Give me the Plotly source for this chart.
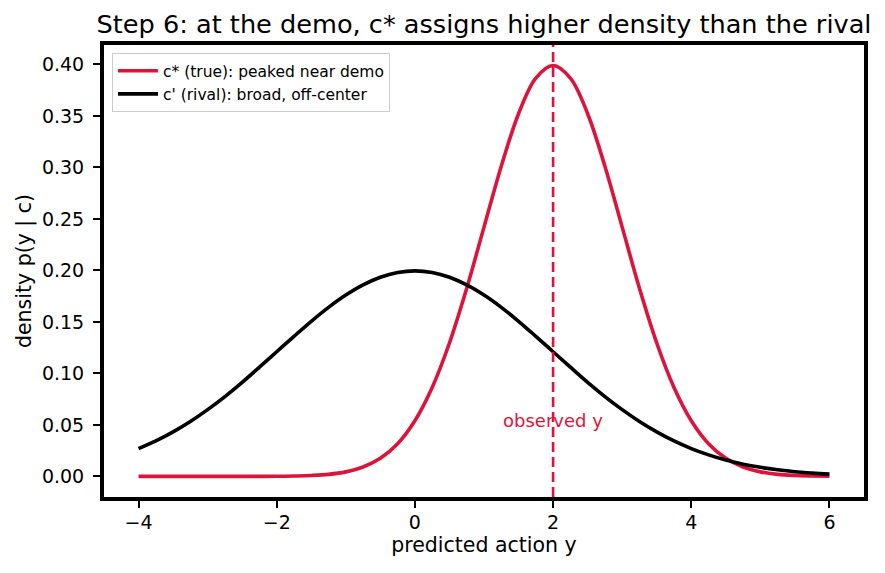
import plotly.graph_objects as go

# x grid (read at 0.25 steps)
x_vals = [-4 + 0.25 * i for i in range(41)]

# c* (true): peaked near demo
c_star = [0.0, 0.0, 0.0, 0.0, 0.0, 0.0, 0.0, 0.0, 0.0001, 0.0004, 0.0009, 0.0020,
          0.0044, 0.0091, 0.0175, 0.0317, 0.0540, 0.0863, 0.1295, 0.1826, 0.2420,
          0.3011, 0.3521, 0.3867, 0.3989, 0.3867, 0.3521, 0.3011, 0.2420, 0.1826,
          0.1295, 0.0863, 0.0540, 0.0317, 0.0175, 0.0091, 0.0044, 0.0020, 0.0009,
          0.0004, 0.0001]

# c' (rival): broad, off-center
c_rival = [0.0270, 0.0344, 0.0432, 0.0533, 0.0648, 0.0775, 0.0913, 0.1060, 0.1210,
           0.1360, 0.1506, 0.1641, 0.1760, 0.1859, 0.1933, 0.1979, 0.1995, 0.1979,
           0.1933, 0.1859, 0.1760, 0.1641, 0.1506, 0.1360, 0.1210, 0.1060, 0.0913,
           0.0775, 0.0648, 0.0533, 0.0432, 0.0344, 0.0270, 0.0209, 0.0159, 0.0119,
           0.0088, 0.0064, 0.0045, 0.0032, 0.0022]

observed_y = 2
x_ticks = [-4, -2, 0, 2, 4, 6]
y_ticks = [0.00, 0.05, 0.10, 0.15, 0.20, 0.25, 0.30, 0.35, 0.40]

RED = "#DC143C"
FONT = "DejaVu Sans"

fig = go.Figure()
fig.add_trace(go.Scatter(x=x_vals, y=c_star, mode="lines",
                         line=dict(color=RED, width=3.6, shape="spline"),
                         name="c* (true): peaked near demo"))
fig.add_trace(go.Scatter(x=x_vals, y=c_rival, mode="lines",
                         line=dict(color="black", width=3.6, shape="spline"),
                         name="c' (rival): broad, off-center"))

fig.add_shape(type="line", x0=observed_y, x1=observed_y, xref="x",
              y0=0, y1=1, yref="paper",
              line=dict(color=RED, width=2.6, dash="10px,5px"))
fig.add_annotation(x=observed_y, y=0.05, xref="x", yref="y", text="observed y",
                   showarrow=False, yshift=4,
                   font=dict(color=RED, size=18, family=FONT))

fig.update_layout(
    width=885, height=573,
    margin=dict(l=104, r=21, t=45, b=76),
    paper_bgcolor="white", plot_bgcolor="white",
    font=dict(family=FONT, size=18, color="black"),
    title=dict(text="Step 6: at the demo, c* assigns higher density than the rival",
               xref="paper", x=0.5, xanchor="center", y=0.958, yanchor="middle",
               font=dict(size=25.6, family=FONT)),
    legend=dict(x=0.0105, y=0.982, xanchor="left", yanchor="top",
                bgcolor="rgba(255,255,255,0.8)", bordercolor="#cccccc",
                borderwidth=1, font=dict(size=15.5), tracegroupgap=0,
                itemwidth=40),
    showlegend=True,
)
fig.update_xaxes(range=[-4.5, 6.5], tickvals=x_ticks,
                 ticktext=[str(t).replace("-", "\u2212") for t in x_ticks],
                 showgrid=False, zeroline=False, showline=True, mirror=True,
                 linecolor="black", linewidth=4, ticks="outside", ticklen=7,
                 tickwidth=1.7, tickcolor="black", tickfont=dict(size=19),
                 ticklabelstandoff=-2,
                 title=dict(text="predicted action y", font=dict(size=20.5), standoff=6))
fig.update_yaxes(range=[-0.02, 0.4188], tickvals=y_ticks,
                 ticktext=[f"{t:.2f}" for t in y_ticks],
                 showgrid=False, zeroline=False, showline=True, mirror=True,
                 linecolor="black", linewidth=4, ticks="outside", ticklen=7,
                 tickwidth=1.7, tickcolor="black", tickfont=dict(size=19),
                 ticklabelstandoff=5,
                 title=dict(text="density p(y | c)", font=dict(size=20.5), standoff=6))

fig.write_html("out.html")
